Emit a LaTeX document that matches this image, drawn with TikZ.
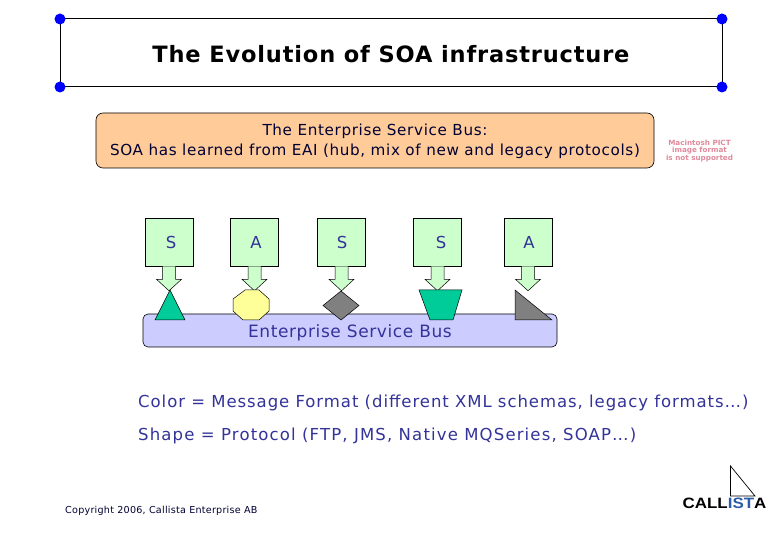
\documentclass[tikz,border=0pt]{standalone}
\usepackage{graphicx}
\usepackage{fontspec}
\setmainfont{DejaVu Sans}
\newfontfamily\logofont{Liberation Sans}
\newfontfamily\titlefont[LetterSpace=3.7]{DejaVu Sans}
\newfontfamily\notefont[LetterSpace=4.2]{DejaVu Sans}
\newfontfamily\legendfont[LetterSpace=5.8]{DejaVu Sans}
\newfontfamily\legendfontb[LetterSpace=7]{DejaVu Sans}
\newfontfamily\busfont[LetterSpace=3.5]{DejaVu Sans}
\newfontfamily\copyfont[LetterSpace=2.5]{DejaVu Sans}
\usetikzlibrary{calc}
\definecolor{txtblue}{HTML}{333399}
\definecolor{ltgreen}{HTML}{CCFFCC}
\definecolor{peach}{HTML}{FFCC99}
\definecolor{busblue}{HTML}{CCCCFF}
\definecolor{teal1}{HTML}{00CC99}
\definecolor{pale}{HTML}{FFFF99}
\definecolor{greyshape}{HTML}{808080}
\definecolor{pict}{HTML}{E08A9C}
\definecolor{logoblue}{HTML}{2A5CAA}
\tikzset{
  x=1pt,y=-1pt,
  dot/.style={circle,fill=blue,draw=none,inner sep=0pt,minimum size=11pt},
  svc/.style={draw=black,line width=.6pt,fill=ltgreen,minimum width=48pt,minimum height=48pt,inner sep=0pt,text=txtblue,font=\fontsize{16.5}{18}\selectfont},
  blockarrow/.style={draw=black,line width=.5pt,fill=ltgreen},
  protoshape/.style={draw=black,line width=.5pt},
  legend/.style={anchor=west,text=txtblue,inner sep=0pt},
}
\newcommand{\blockarr}[1]{%
  \draw[blockarrow] (#1.south) ++(-6.5,0) -- ++(0,13) -- ++(-6,0) -- ++(12.5,11.5) -- ++(12.5,-11.5) -- ++(-6,0) -- ++(0,-13);%
}
\begin{document}
\begin{tikzpicture}
\useasboundingbox (0,0) rectangle (780,540);
\fill[white] (0,0) rectangle (780,540);
% title frame
\coordinate (tl) at (60,19); \coordinate (tr) at (722,19);
\coordinate (bl) at (60,87); \coordinate (br) at (722,87);
\draw[line width=1pt] (tl) -- (tr) -- (br) -- (bl) -- cycle;
\node[dot] at (tl) {}; \node[dot] at (tr) {}; \node[dot] at (bl) {}; \node[dot] at (br) {};
\node[inner sep=0pt,font=\titlefont\fontsize{22.5}{26}\selectfont\bfseries] (title) at (391,54) {The Evolution of SOA infrastructure};
% peach box
\node[draw=black,line width=.6pt,fill=peach,rounded corners=7pt,minimum width=558pt,minimum height=55pt,inner sep=0pt] (esbnote) at (375,140.5) {};
\node[inner sep=0pt,align=center,text=black!80!blue,font=\notefont\fontsize{15.2}{20}\selectfont] (esbtext) at (375,141.5) {The Enterprise Service Bus:\\SOA has learned from EAI (hub, mix of new and legacy protocols)};
% PICT placeholder
\node[inner sep=0pt,align=center,text=pict,font=\fontsize{7.2}{7.4}\selectfont\bfseries] (pictph) at (699.5,151) {Macintosh PICT\\image format\\is not supported};
% bus
\node[draw=black,line width=.6pt,fill=busblue,rounded corners=5pt,minimum width=414pt,minimum height=33pt,inner sep=0pt] (bus) at (350,330.5) {};
\node[inner sep=0pt,text=txtblue,font=\busfont\fontsize{17}{19}\selectfont] (buslabel) at (350,332.5) {Enterprise Service Bus};
% services
\node[svc] (s1) at (169,242) {\hspace*{4pt}S};
\node[svc] (a1) at (254.5,242) {\hspace*{3pt}A};
\node[svc] (s2) at (341.5,242) {\hspace*{1pt}S};
\node[svc] (s3) at (437.5,242) {\hspace*{7pt}S};
\node[svc] (a2) at (528,242) {\hspace*{2pt}A};
\blockarr{s1}\blockarr{a1}\blockarr{s2}\blockarr{s3}\blockarr{a2}
% protocol shapes
\draw[protoshape,fill=teal1] (170,290) -- (185,320) -- (155,320) -- cycle;
\draw[protoshape,fill=pale] (245,290) -- (259,290) -- (269,299) -- (269,311) -- (259,320) -- (243,320) -- (233,311) -- (233,299) -- cycle;
\draw[protoshape,fill=greyshape] (341,291) -- (359,305.5) -- (341,320) -- (323,305.5) -- cycle;
\draw[protoshape,fill=teal1] (419,290) -- (462,290) -- (453,320) -- (430,320) -- cycle;
\draw[protoshape,fill=greyshape] (515,290) -- (552,320) -- (515,320) -- cycle;
% legend
\node[legend,font=\legendfont\fontsize{16.5}{18}\selectfont] (l1) at (138,402.5) {Color = Message Format (different XML schemas, legacy formats…)};
\node[legend,font=\legendfontb\fontsize{16.5}{18}\selectfont] (l2) at (138,435.5) {Shape = Protocol (FTP, JMS, Native MQSeries, SOAP…)};
\node[anchor=west,inner sep=0pt,text=black!80!blue,font=\copyfont\fontsize{9.6}{12}\selectfont] (copy) at (65,511) {Copyright 2006, Callista Enterprise AB};
% logo
\draw[line width=.7pt] (730.5,466) -- (755,496) -- (730.5,496) -- cycle;
\node[inner sep=0pt,anchor=center,font=\logofont\bfseries\fontsize{15}{15}\selectfont] (logo) at (724.5,503) {\scalebox{1.13}[1]{CALL\textcolor{logoblue}{IST}A}};
\end{tikzpicture}
\end{document}
